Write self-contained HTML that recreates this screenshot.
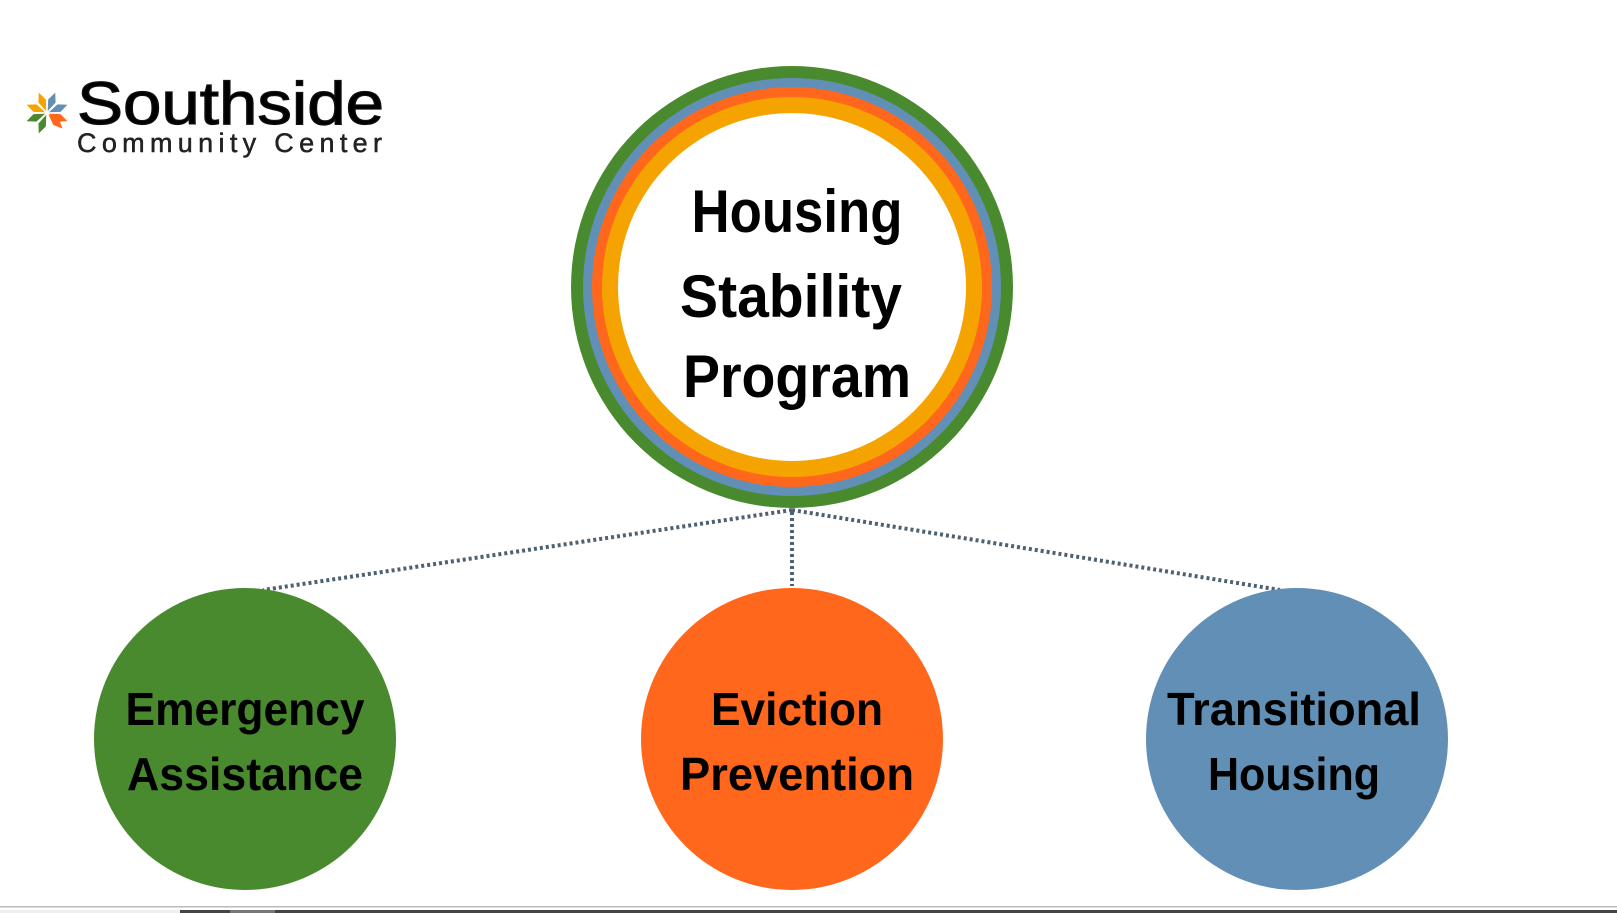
<!DOCTYPE html>
<html><head><meta charset="utf-8"><style>
html,body{margin:0;padding:0;background:#fff;width:1617px;height:913px;overflow:hidden}
svg{display:block}
text{font-family:"Liberation Sans",sans-serif;font-weight:bold;fill:#000}
</style></head><body>
<svg width="1617" height="913" viewBox="0 0 1617 913" xmlns="http://www.w3.org/2000/svg">
<rect width="1617" height="913" fill="#fff"/>
<g stroke="#4d6170" stroke-width="4" stroke-dasharray="3 3" fill="none">
<line x1="792" y1="510" x2="263" y2="590"/>
<line x1="792" y1="512" x2="792" y2="586"/>
<line x1="792" y1="510" x2="1280" y2="590"/>
</g>
<circle cx="792" cy="287" r="221" fill="#4a8a2e"/>
<circle cx="792" cy="287" r="209" fill="#628fb5"/>
<circle cx="792" cy="287" r="200" fill="#ff671d"/>
<circle cx="792" cy="287" r="190" fill="#f5a300"/>
<circle cx="792" cy="287" r="174" fill="#fff"/>
<text x="797" y="232" font-size="60" text-anchor="middle" textLength="211" lengthAdjust="spacingAndGlyphs">Housing</text>
<text x="791" y="317" font-size="60" text-anchor="middle" textLength="222" lengthAdjust="spacingAndGlyphs">Stability</text>
<text x="797" y="397" font-size="60" text-anchor="middle" textLength="228" lengthAdjust="spacingAndGlyphs">Program</text>
<circle cx="245" cy="739" r="151" fill="#4a8a2e"/>
<circle cx="792" cy="739" r="151" fill="#ff671d"/>
<circle cx="1297" cy="739" r="151" fill="#628fb5"/>
<text x="245" y="725" font-size="46" text-anchor="middle" textLength="239" lengthAdjust="spacingAndGlyphs">Emergency</text>
<text x="245" y="790" font-size="46" text-anchor="middle" textLength="236" lengthAdjust="spacingAndGlyphs">Assistance</text>
<text x="797" y="725" font-size="46" text-anchor="middle" textLength="172" lengthAdjust="spacingAndGlyphs">Eviction</text>
<text x="797" y="790" font-size="46" text-anchor="middle" textLength="234" lengthAdjust="spacingAndGlyphs">Prevention</text>
<text x="1294" y="725" font-size="46" text-anchor="middle" textLength="254" lengthAdjust="spacingAndGlyphs">Transitional</text>
<text x="1294" y="790" font-size="46" text-anchor="middle" textLength="172" lengthAdjust="spacingAndGlyphs">Housing</text>
<g transform="translate(47,113)">
<polygon points="0,-2 -4,-13 0,-22 4,-13" fill="#f5a300" transform="rotate(-22)"/>
<polygon points="0,-2 -4,-13 0,-22 4,-13" fill="#628fb5" transform="rotate(68)"/>
<polygon points="0,-2 -4,-13 0,-22 4,-13" fill="#ff671d" transform="rotate(135)"/>
<polygon points="0,-2 -4,-13 0,-22 4,-13" fill="#4a8a2e" transform="rotate(202)"/>
<polygon points="0,-2 -4,-13 0,-22 4,-13" fill="#f5a300" transform="rotate(-68)"/>
<polygon points="0,-2 -4,-13 0,-22 4,-13" fill="#628fb5" transform="rotate(22)"/>
<polygon points="0,-2 -4,-13 0,-22 4,-13" fill="#ff671d" transform="rotate(112)"/>
<polygon points="0,-2 -4,-13 0,-22 4,-13" fill="#4a8a2e" transform="rotate(248)"/>
</g>
<text x="77" y="124" font-size="60" style="font-weight:normal" fill="#111" stroke="#111" stroke-width="1.2" textLength="307" lengthAdjust="spacingAndGlyphs">Southside</text>
<text x="77" y="152" font-size="27" style="font-weight:normal;fill:#222" stroke="#222" stroke-width="0.5" textLength="305" lengthAdjust="spacing">Community Center</text>
<rect x="0" y="906" width="1617" height="1.5" fill="#bbb"/>
<rect x="0" y="910" width="1617" height="3" fill="#eee"/>
<rect x="180" y="910" width="1437" height="3" fill="#444"/>
<rect x="230" y="910" width="45" height="3" fill="#777"/>
</svg>
</body></html>
